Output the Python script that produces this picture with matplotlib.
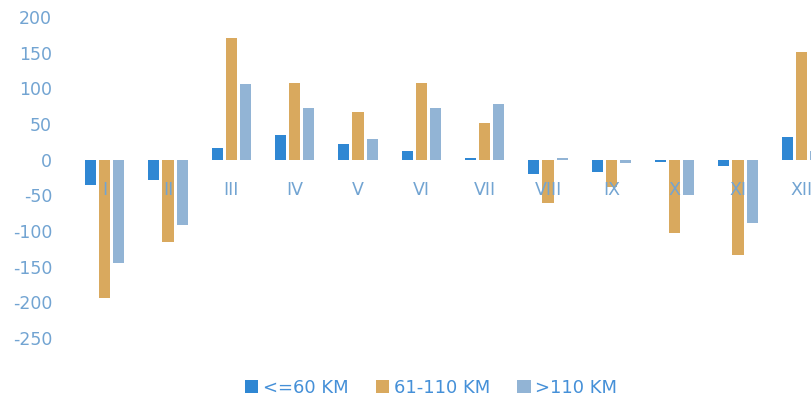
import matplotlib
matplotlib.use("Agg")
import matplotlib.pyplot as plt
import numpy as np

plt.rcParams['font.family'] = ['DejaVu Sans']
plt.rcParams['axes.unicode_minus'] = False

months = ["I", "II", "III", "IV", "V", "VI", "VII", "VIII", "IX", "X", "XI", "XII"]
series_names = ["<=60 KM", "61-110 KM", ">110 KM"]
short_trips = [-35, -28, 16, 35, 22, 12, 2, -20, -17, -3, -9, 32]
mid_trips = [-194, -115, 171, 108, 67, 108, 51, -61, -38, -103, -134, 151]
long_trips = [-145, -92, 106, 72, 29, 72, 78, 3, -5, -49, -89, 12]
y_ticks = [200, 150, 100, 50, 0, -50, -100, -150, -200, -250]

colors = ["#2F87D3", "#D9A95E", "#92B4D5"]
tick_color = "#72A4D2"
legend_color = "#4590D8"

fig = plt.figure(figsize=(8.11, 4.03), dpi=100)
ax = fig.add_axes([73 / 811, 1 - 338 / 403, 760 / 811, (338 - 17) / 403])

x = np.arange(len(months))
width = 0.175
offset = 0.225
for k, (vals, name, col) in enumerate(zip([short_trips, mid_trips, long_trips], series_names, colors)):
    ax.bar(x + (k - 1) * offset, vals, width, color=col, label=name, zorder=1)

ax.set_xlim(-0.5, len(months) - 0.5)
ax.set_ylim(-250, 200)
ax.set_yticks(y_ticks)

for side in ["top", "right", "left"]:
    ax.spines[side].set_visible(False)
ax.spines["bottom"].set_position(("data", 0))
ax.spines["bottom"].set_visible(False)

ax.set_xticks(x)
ax.set_xticklabels(months)
ax.tick_params(axis="x", length=0, pad=15, labelsize=12.5, colors=tick_color)
ax.tick_params(axis="y", length=0, pad=15, labelsize=12.5, colors=tick_color)

leg = ax.legend(loc="center", bbox_to_anchor=(0.471, -0.156),
                ncol=3, frameon=False, fontsize=13, handlelength=0.75, handleheight=0.75,
                handletextpad=0.25, columnspacing=1.5)
for t in leg.get_texts():
    t.set_color(legend_color)

fig.savefig("out.png", dpi=100)
